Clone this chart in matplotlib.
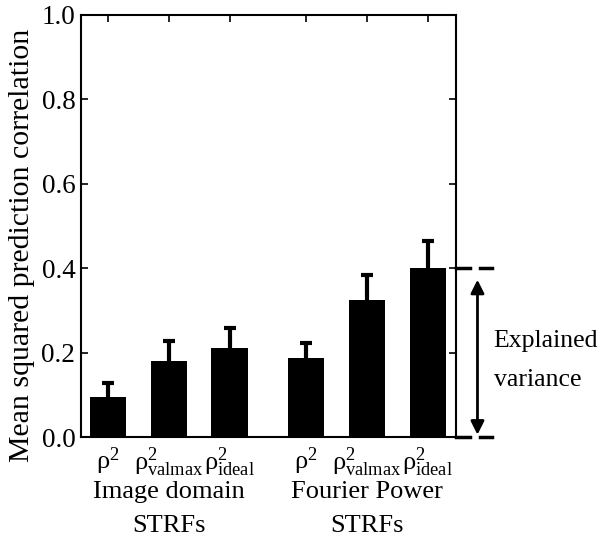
import matplotlib
matplotlib.use("Agg")
import matplotlib.pyplot as plt
import numpy as np

plt.rcParams['font.family'] = ['Liberation Serif', 'DejaVu Serif']
plt.rcParams['mathtext.fontset'] = 'custom'
plt.rcParams['mathtext.rm'] = 'Liberation Serif'
plt.rcParams['mathtext.it'] = 'Liberation Serif:italic'

tick_labels = [r'$\mathrm{ρ}^2$', r'$\mathrm{ρ}^2_{\mathrm{valmax}}$', r'$\mathrm{ρ}^2_{\mathrm{ideal}}$',
               r'$\mathrm{ρ}^2$', r'$\mathrm{ρ}^2_{\mathrm{valmax}}$', r'$\mathrm{ρ}^2_{\mathrm{ideal}}$']
groups = [('Image domain', 'STRFs'), ('Fourier Power', 'STRFs')]
values = [0.097, 0.182, 0.212, 0.187, 0.325, 0.402]
errors = [0.033, 0.046, 0.048, 0.036, 0.060, 0.062]
positions = [1, 2, 3, 4.25, 5.25, 6.25]

fig = plt.figure(figsize=(5.99, 5.47), dpi=100)
ax = fig.add_axes([0.135, 0.2002, 0.627, 0.7724])
ax.bar(positions, values, width=0.6, color='black')
pos = np.array(positions)
tops = np.array(values) + np.array(errors)
ax.vlines(pos, values, tops, color='black', lw=3)
ax.hlines(tops, pos - 0.1, pos + 0.1, color='black', lw=3)
ax.set_xlim(0.557, 6.72)
ax.set_ylim(0, 1.0)
ax.set_yticks([0, 0.2, 0.4, 0.6, 0.8, 1.0])
ax.set_yticklabels(['0.0', '0.2', '0.4', '0.6', '0.8', '1.0'], fontsize=19.5)
ax.set_xticks(positions)
ax.set_xticklabels(tick_labels, fontsize=19)
ax.tick_params(axis='y', direction='in', right=True, length=5, width=1.2, pad=4)
ax.tick_params(axis='x', direction='in', top=True, bottom=False, length=5, width=1.2, pad=6)
for s in ax.spines.values():
    s.set_linewidth(1.5)
fig.text(22 / 599, 1 - 245 / 547, 'Mean squared prediction correlation', rotation=90,
         ha='center', va='center', fontsize=21.5)

# group labels
xt = ax.get_xaxis_transform()
for x, (l1, l2) in zip([2, 5.25], groups):
    ax.text(x, -0.143, l1, transform=xt, ha='center', va='baseline', fontsize=19)
    ax.text(x, -0.224, l2, transform=xt, ha='center', va='baseline', fontsize=19)

# explained variance annotation
trans = ax.get_yaxis_transform()
for yv in [0.4, 0.0]:
    ax.plot([1.0, 1.035], [yv, yv], color='black', lw=2.5, transform=trans, clip_on=False)
    ax.plot([1.064, 1.096], [yv, yv], color='black', lw=2.5, transform=trans, clip_on=False)
ax.annotate('', xy=(1.056, 0.0), xytext=(1.056, 0.38), xycoords=trans, textcoords=trans,
            arrowprops=dict(arrowstyle='<|-|>', color='black', lw=2, mutation_scale=20))
ax.text(1.099, 0.214, 'Explained', transform=trans, ha='left', va='baseline', fontsize=18.5)
ax.text(1.099, 0.122, 'variance', transform=trans, ha='left', va='baseline', fontsize=18.5)

fig.savefig('out.png', dpi=100)
